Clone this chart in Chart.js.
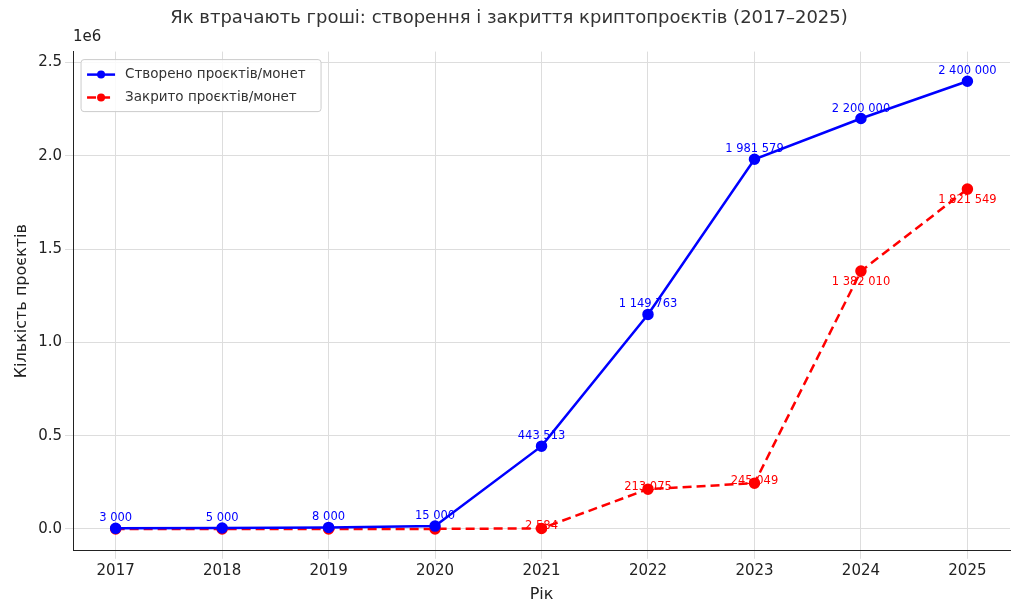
<!DOCTYPE html>
<html>
<head>
<meta charset="utf-8">
<script src="https://cdn.jsdelivr.net/npm/chart.js@4/dist/chart.umd.min.js"></script>
<style>
  html, body { margin: 0; background: #fff; }
  #wrap { width: 1024px; height: 614px; }
</style>
</head>
<body>
<div id="wrap"><canvas id="c" width="1024" height="614"></canvas></div>
<script>
const years = [2017, 2018, 2019, 2020, 2021, 2022, 2023, 2024, 2025];
const created = [3000, 5000, 8000, 15000, 443513, 1149763, 1981579, 2200000, 2400000];
const closed = [0, 0, 0, 0, 2584, 213075, 245049, 1382010, 1821549];
const yTicks = [0, 500000, 1000000, 1500000, 2000000, 2500000];

function fmt(v) {
  return String(v).replace(/\B(?=(\d{3})+(?!\d))/g, " ");
}

// labels next to points, "1e6" and a matplotlib-like legend inside the plot
const extras = {
  id: "extras",
  afterDatasetsDraw(chart) {
    const ctx = chart.ctx;
    const area = chart.chartArea;
    ctx.save();
    ctx.font = "11.5px 'DejaVu Sans'";
    ctx.textAlign = "center";
    ctx.textBaseline = "middle";
    chart.data.datasets.forEach((ds, i) => {
      const meta = chart.getDatasetMeta(i);
      ctx.fillStyle = ds.borderColor;
      meta.data.forEach((pt, j) => {
        const v = ds.data[j].y;
        if (!v) return;
        let dy = -10;
        if (i === 1) dy = j >= 7 ? 11 : -2;
        ctx.fillText(fmt(v), pt.x, pt.y + dy);
      });
    });
    ctx.fillStyle = "#222";
    ctx.font = "15px 'DejaVu Sans'";
    ctx.textAlign = "left";
    ctx.fillText("1e6", area.left, area.top - 14);

    // legend box
    const x0 = area.left + 8, y0 = area.top + 8;
    ctx.fillStyle = "rgba(255,255,255,0.85)";
    ctx.strokeStyle = "#ccc";
    ctx.lineWidth = 1;
    ctx.beginPath();
    ctx.roundRect(x0, y0, 240, 52, 3);
    ctx.fill();
    ctx.stroke();
    ctx.font = "13.5px 'DejaVu Sans'";
    chart.data.datasets.forEach((ds, i) => {
      const cy = y0 + 15 + i * 23;
      ctx.strokeStyle = ds.borderColor;
      ctx.fillStyle = ds.borderColor;
      ctx.lineWidth = 2.5;
      ctx.setLineDash(ds.borderDash || []);
      ctx.beginPath();
      ctx.moveTo(x0 + 6, cy);
      ctx.lineTo(x0 + 34, cy);
      ctx.stroke();
      ctx.setLineDash([]);
      ctx.beginPath();
      ctx.arc(x0 + 20, cy, 4, 0, Math.PI * 2);
      ctx.fill();
      ctx.fillStyle = "#333";
      ctx.fillText(ds.label, x0 + 44, cy);
    });
    ctx.restore();
  }
};

new Chart(document.getElementById("c"), {
  type: "line",
  data: {
    datasets: [
      {
        label: "Створено проєктів/монет",
        data: years.map((y, i) => ({ x: y, y: created[i] })),
        borderColor: "#0000ff",
        backgroundColor: "#0000ff",
        borderWidth: 2.5,
        pointRadius: 4.5,
        tension: 0,
      },
      {
        label: "Закрито проєктів/монет",
        data: years.map((y, i) => ({ x: y, y: closed[i] })),
        borderColor: "#ff0000",
        backgroundColor: "#ff0000",
        borderWidth: 2.5,
        borderDash: [9, 5],
        pointRadius: 4.5,
        tension: 0,
      },
    ],
  },
  options: {
    responsive: false,
    animation: false,
    layout: { padding: { left: 8, right: 14, top: 4, bottom: 8 } },
    plugins: {
      legend: { display: false },
      title: {
        display: true,
        text: "Як втрачають гроші: створення і закриття криптопроєктів (2017–2025)",
        font: { family: "DejaVu Sans", size: 18, weight: "normal" },
        color: "#333",
        padding: { top: 4, bottom: 22 },
      },
    },
    scales: {
      x: {
        type: "linear",
        min: 2016.6,
        max: 2025.4,
        afterBuildTicks: (s) => { s.ticks = years.map((v) => ({ value: v })); },
        ticks: { callback: (v) => String(v), color: "#222", font: { family: "DejaVu Sans", size: 15 } },
        grid: { color: "#ddd", borderDash: [4, 3] },
        border: { color: "#222" },
        title: { display: true, text: "Рік", color: "#222", font: { family: "DejaVu Sans", size: 16 }, padding: 2 },
      },
      y: {
        min: -117500,
        max: 2558800,
        afterBuildTicks: (s) => { s.ticks = yTicks.map((v) => ({ value: v })); },
        ticks: { callback: (v) => (v / 1e6).toFixed(1), color: "#222", font: { family: "DejaVu Sans", size: 15 } },
        grid: { color: "#ddd", borderDash: [4, 3] },
        border: { color: "#222" },
        title: { display: true, text: "Кількість проєктів", color: "#222", font: { family: "DejaVu Sans", size: 16 } },
      },
    },
  },
  plugins: [extras],
});
</script>
</body>
</html>
